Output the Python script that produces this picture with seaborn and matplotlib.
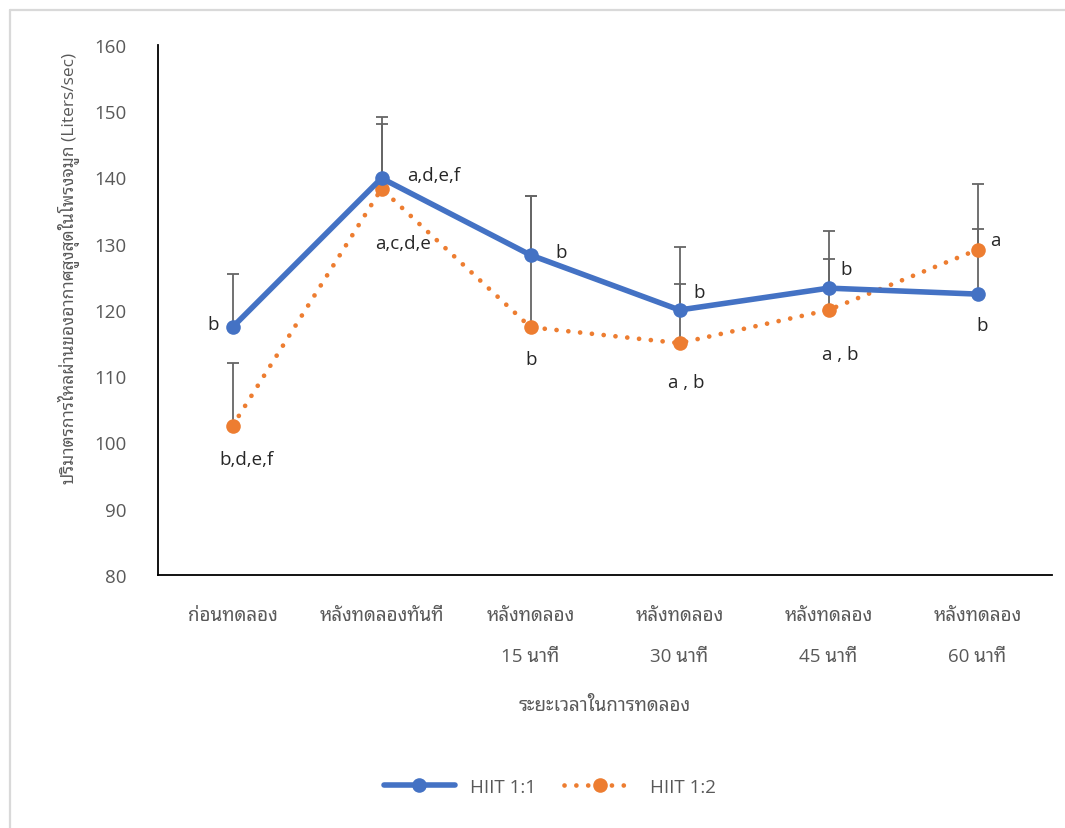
import matplotlib
matplotlib.use("Agg")
import matplotlib.pyplot as plt
from matplotlib.lines import Line2D
import seaborn as sns
import numpy as np

# ---------------- data ----------------
categories = ["ก่อนทดลอง", "หลังทดลองทันที", "หลังทดลอง\n15 นาที",
              "หลังทดลอง\n30 นาที", "หลังทดลอง\n45 นาที", "หลังทดลอง\n60 นาที"]
series_names = ["HIIT 1:1", "HIIT 1:2"]
hiit11 = [117.4, 139.9, 128.3, 120.0, 123.3, 122.4]
hiit12 = [102.5, 138.3, 117.4, 115.0, 120.0, 129.1]
hiit11_err = [8.0, 9.2, 8.9, 9.5, 8.7, 9.8]
hiit12_err = [9.5, 9.8, 19.8, 8.9, 7.7, 9.9]
hiit11_labels = ["b", "a,d,e,f", "b", "b", "b", "b"]
hiit12_labels = ["b,d,e,f", "a,c,d,e", "b", "a , b", "a , b", "a"]
y_ticks = [80, 90, 100, 110, 120, 130, 140, 150, 160]
y_label = "ปริมาตรการไหลผ่านของอากาศสูงสุดในโพรงจมูก (Liters/sec)"
x_label = "ระยะเวลาในการทดลอง"

# ---------------- style ----------------
sns.set_theme(style="white")
FONTS = ["Open Sans", "Noto Sans Thai Looped", "DejaVu Sans"]
plt.rcParams["font.family"] = FONTS
GRAY = "#595959"
BLUE = "#4472C4"
ORANGE = "#ED7D31"

# label offsets in pixels (dx, dy up-positive) and alignment
off11 = [(-14, 3, "right"), (26, 3, "left"), (31, 3, "center"), (20, 18, "center"),
         (18, 19, "center"), (5, -31, "center")]
off12 = [(14, -33, "center"), (22, -54, "center"), (1, -32, "center"), (7, -39, "center"),
         (12, -44, "center"), (18, 10, "center")]

W, H = 1065, 829
fig = plt.figure(figsize=(W / 100, H / 100), dpi=100)
ax = fig.add_axes([158 / W, 1 - 576 / H, (1052 - 158) / W, (576 - 46) / H])

x = np.arange(len(categories))

# error bars (plus direction only)
ax.errorbar(x, hiit11, yerr=[np.zeros(len(x)), hiit11_err], fmt="none",
            ecolor="#666666", elinewidth=1.3, capsize=4.5, capthick=1.3, zorder=2)
ax.errorbar(x, hiit12, yerr=[np.zeros(len(x)), hiit12_err], fmt="none",
            ecolor="#666666", elinewidth=1.3, capsize=4.5, capthick=1.3, zorder=2)

sns.lineplot(x=x, y=hiit11, ax=ax, color=BLUE, linewidth=4.0, marker="o",
             markersize=10.5, markeredgewidth=0, zorder=4, legend=False)
sns.lineplot(x=x, y=hiit12, ax=ax, color=ORANGE, linewidth=3.4, marker="o",
             markersize=10.5, markeredgewidth=0, linestyle=(0, (0.01, 2.5)),
             dash_capstyle="round", zorder=3, legend=False)

for i in range(len(x)):
    dx, dy, ha = off11[i]
    ax.annotate(hiit11_labels[i], (x[i], hiit11[i]), xytext=(dx, dy),
                textcoords="offset pixels", ha=ha, va="center", fontsize=13.5,
                color="#262626", zorder=6)
    dx, dy, ha = off12[i]
    ax.annotate(hiit12_labels[i], (x[i], hiit12[i]), xytext=(dx, dy),
                textcoords="offset pixels", ha=ha, va="center", fontsize=13.5,
                color="#262626", zorder=6)

ax.set_xlim(-0.5, len(categories) - 0.5)
ax.set_ylim(80, 160)
ax.set_yticks(y_ticks)
ax.set_yticklabels([str(t) for t in y_ticks], color=GRAY, fontsize=13.5)
ax.set_xticks(np.arange(-0.5, len(categories), 1.0))
ax.set_xticklabels([])
ax.set_xticks(x, minor=True)
ax.set_xticklabels(categories, minor=True, color=GRAY, fontsize=13.5,
                   linespacing=2.65, va="top")
ax.tick_params(axis="x", which="minor", length=0, pad=22)
ax.tick_params(axis="x", which="major", length=8, width=1.3, color="black", direction="out")
ax.tick_params(axis="y", which="major", length=8, width=1.3, color="black",
               direction="out", pad=15)

for s in ["top", "right"]:
    ax.spines[s].set_visible(False)
for s in ["left", "bottom"]:
    ax.spines[s].set_color("black")
    ax.spines[s].set_linewidth(1.3)
ax.grid(False)
ax.set_facecolor("white")

ax.set_ylabel(y_label, color=GRAY, fontsize=12.5)
ax.yaxis.set_label_coords((69 - 158) / (1052 - 158), (576 - 268) / (576 - 46))
ax.yaxis.label.set_va("center")
fig.text((158 + 1052) / 2 / W, 1 - 706 / H, x_label, ha="center", va="center",
         color=GRAY, fontsize=13.5)

handles = [Line2D([], [], color=BLUE, linewidth=4.0, marker="o", markersize=10.5,
                  markeredgewidth=0, solid_capstyle="round"),
           Line2D([], [], color=ORANGE, linewidth=3.4, marker="o", markersize=10.5,
                  markeredgewidth=0, linestyle=(0, (0.01, 2.5)), dash_capstyle="round")]
leg = fig.legend(handles, series_names, loc="center", bbox_to_anchor=(550 / W, 1 - 788 / H),
                 ncol=2, frameon=False, fontsize=13.5, handlelength=3.8,
                 handletextpad=0.8, columnspacing=1.5)
for t in leg.get_texts():
    t.set_color(GRAY)

# chart-area border (only top and left edges are visible in the image)
fig.add_artist(Line2D([10 / W, 10 / W], [0, 1 - 11 / H], transform=fig.transFigure,
                      color="#D9D9D9", linewidth=1.6))
fig.add_artist(Line2D([10 / W, 1], [1 - 11 / H, 1 - 11 / H], transform=fig.transFigure,
                      color="#D9D9D9", linewidth=1.6))

fig.savefig("out.png", dpi=100)
